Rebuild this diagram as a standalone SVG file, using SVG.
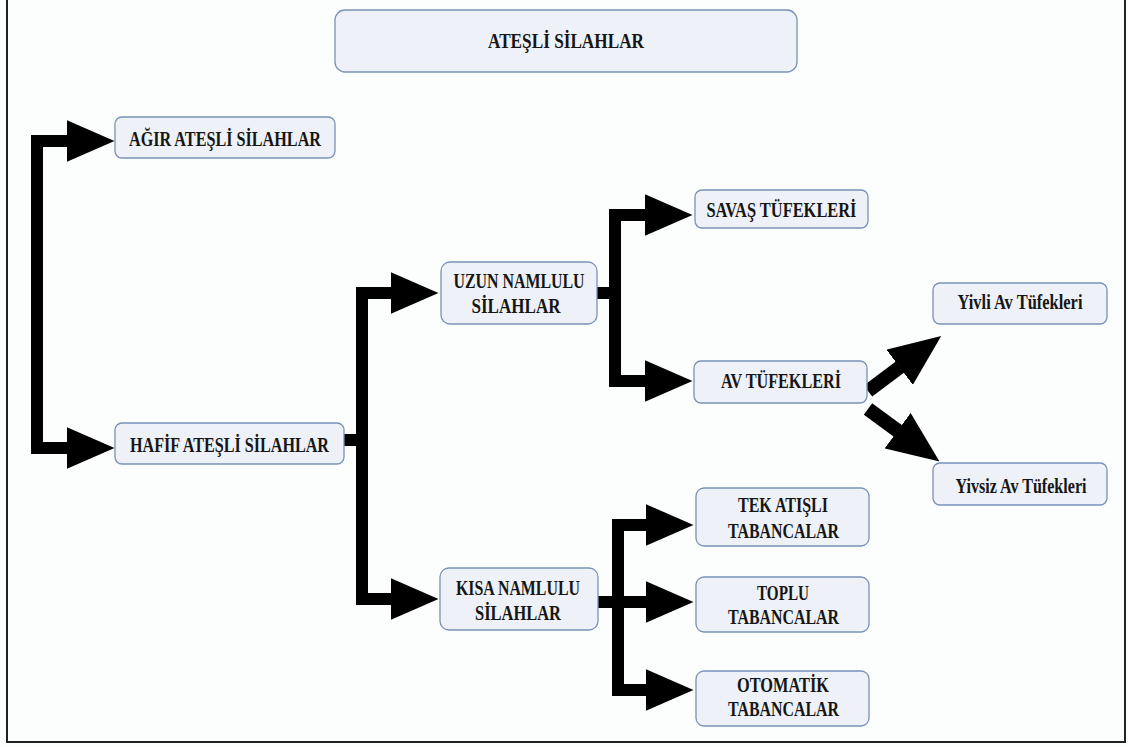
<svg xmlns="http://www.w3.org/2000/svg" width="1128" height="747" viewBox="0 0 1128 747">
<style>
.box{fill:#eef1f7;stroke:#7a92b6;stroke-width:1.3}
.t{font-family:"Liberation Serif","Times New Roman",serif;font-weight:bold;font-size:21px;fill:#161616;text-anchor:middle}
.c{fill:none;stroke:#000;stroke-width:12;stroke-linejoin:miter}
.d{stroke-width:14}
</style>
<defs>
<marker id="ah" markerUnits="userSpaceOnUse" markerWidth="48" markerHeight="42" viewBox="0 0 48 42" refX="0.5" refY="21" orient="auto-start-reverse">
<path d="M0,0 L48,21 L0,42 Z" fill="#000"/>
</marker>
<marker id="ahd" markerUnits="userSpaceOnUse" markerWidth="52" markerHeight="44" viewBox="0 0 52 44" refX="0.5" refY="22" orient="auto">
<path d="M0,0 L52,22 L0,44 Z" fill="#000"/>
</marker>
</defs>
<rect x="0" y="0" width="1128" height="747" fill="#fcfdfd"/>
<path d="M7,0 V742 H1125 V0" fill="none" stroke="#222" stroke-width="2"/>
<g id="connectors">
<path class="c" d="M67,141 H37 V448 H67" marker-start="url(#ah)" marker-end="url(#ah)"/>
<path class="c" d="M344,440 H362"/>
<path class="c" d="M391,293 H362 V599 H391" marker-start="url(#ah)" marker-end="url(#ah)"/>
<path class="c" d="M597,293 H615"/>
<path class="c" d="M645,215 H615 V381 H645" marker-start="url(#ah)" marker-end="url(#ah)"/>
<path class="c" d="M598,602 H646" marker-end="url(#ah)"/>
<path class="c" d="M646,525 H618 V690 H646" marker-start="url(#ah)" marker-end="url(#ah)"/>
<path class="c d" d="M868,391 L900,367" marker-end="url(#ahd)"/>
<path class="c d" d="M868,409 L898,431" marker-end="url(#ahd)"/>
</g>
<g id="n-root"><rect class="box" x="335" y="10" width="462" height="62" rx="10"/><text class="t" x="566" y="48" textLength="156" lengthAdjust="spacingAndGlyphs">ATEŞLİ SİLAHLAR</text></g>
<g id="n-agir"><rect class="box" x="115" y="117" width="220" height="41" rx="7"/><text class="t" x="225" y="146" textLength="192" lengthAdjust="spacingAndGlyphs">AĞIR ATEŞLİ SİLAHLAR</text></g>
<g id="n-hafif"><rect class="box" x="115" y="423" width="229" height="41" rx="7"/><text class="t" x="229.5" y="452" textLength="199" lengthAdjust="spacingAndGlyphs">HAFİF ATEŞLİ SİLAHLAR</text></g>
<g id="n-uzun"><rect class="box" x="441" y="262" width="156" height="62" rx="9"/><text class="t" x="519" y="288" textLength="131" lengthAdjust="spacingAndGlyphs">UZUN NAMLULU</text><text class="t" x="516" y="313" textLength="89" lengthAdjust="spacingAndGlyphs">SİLAHLAR</text></g>
<g id="n-kisa"><rect class="box" x="440" y="568" width="158" height="62" rx="9"/><text class="t" x="518" y="595" textLength="124" lengthAdjust="spacingAndGlyphs">KISA NAMLULU</text><text class="t" x="518" y="620" textLength="86" lengthAdjust="spacingAndGlyphs">SİLAHLAR</text></g>
<g id="n-savas"><rect class="box" x="695" y="190" width="173" height="38" rx="7"/><text class="t" x="781.5" y="217" textLength="150" lengthAdjust="spacingAndGlyphs">SAVAŞ TÜFEKLERİ</text></g>
<g id="n-av"><rect class="box" x="694" y="361" width="173" height="42" rx="7"/><text class="t" x="781" y="388" textLength="120" lengthAdjust="spacingAndGlyphs">AV TÜFEKLERİ</text></g>
<g id="n-yivli"><rect class="box" x="933" y="283" width="174" height="41" rx="7"/><text class="t" x="1020" y="309" textLength="125" lengthAdjust="spacingAndGlyphs">Yivli Av Tüfekleri</text></g>
<g id="n-yivsiz"><rect class="box" x="933" y="463" width="174" height="42" rx="7"/><text class="t" x="1021" y="493" textLength="131" lengthAdjust="spacingAndGlyphs">Yivsiz Av Tüfekleri</text></g>
<g id="n-tek"><rect class="box" x="696" y="488" width="173" height="58" rx="8"/><text class="t" x="783" y="512" textLength="90" lengthAdjust="spacingAndGlyphs">TEK ATIŞLI</text><text class="t" x="783.5" y="538" textLength="111" lengthAdjust="spacingAndGlyphs">TABANCALAR</text></g>
<g id="n-toplu"><rect class="box" x="696" y="577" width="173" height="55" rx="8"/><text class="t" x="783" y="600" textLength="52" lengthAdjust="spacingAndGlyphs">TOPLU</text><text class="t" x="783.5" y="624" textLength="111" lengthAdjust="spacingAndGlyphs">TABANCALAR</text></g>
<g id="n-oto"><rect class="box" x="696" y="671" width="173" height="55" rx="8"/><text class="t" x="783" y="692" textLength="92" lengthAdjust="spacingAndGlyphs">OTOMATİK</text><text class="t" x="783.5" y="716" textLength="111" lengthAdjust="spacingAndGlyphs">TABANCALAR</text></g>
</svg>
